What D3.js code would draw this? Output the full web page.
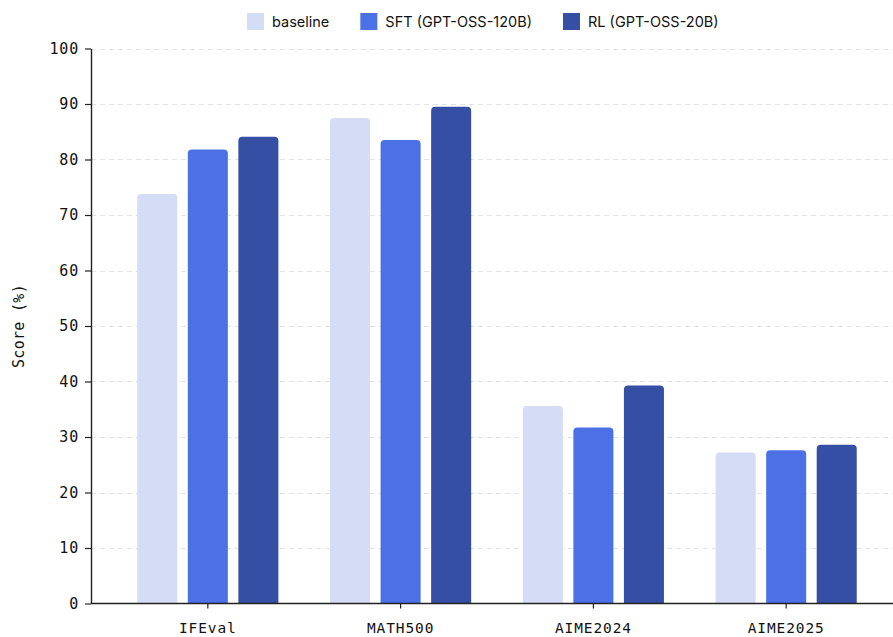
<!DOCTYPE html>
<html>
<head>
<meta charset="utf-8">
<script src="https://cdn.jsdelivr.net/npm/d3@7"></script>
<style>
  html, body { margin: 0; padding: 0; background: #fff; }
  svg { display: block; }
</style>
</head>
<body>
<svg id="chart" width="893" height="637"></svg>
<script>
// Benchmarks and scores (%) per training setup
const categories = ["IFEval", "MATH500", "AIME2024", "AIME2025"];
const seriesNames = ["baseline", "SFT (GPT-OSS-120B)", "RL (GPT-OSS-20B)"];
const baseline = [73.8, 87.5, 35.6, 27.2];
const sft = [81.8, 83.5, 31.7, 27.6];
const rl = [84.1, 89.5, 39.3, 28.6];
const yTicks = [0, 10, 20, 30, 40, 50, 60, 70, 80, 90, 100];
const colors = ["#d4dcf6", "#4c71e6", "#344fa3"];

const seriesValues = [baseline, sft, rl];
const rows = categories.map((c, i) => ({
  category: c,
  values: seriesNames.map((s, j) => ({ series: s, idx: j, value: seriesValues[j][i] }))
}));

const svg = d3.select("#chart");
const W = 893, H = 637;
const margin = { left: 91, top: 48.5, bottom: 33.5 };
const plotBottom = H - margin.bottom;

const x0 = d3.scaleBand()
  .domain(categories)
  .range([margin.left, 903])
  .paddingInner(0.268)
  .paddingOuter(0.24);

const x1 = d3.scaleBand()
  .domain(d3.range(seriesNames.length))
  .range([0, x0.bandwidth()])
  .paddingInner(0.208)
  .paddingOuter(0);

const y = d3.scaleLinear().domain([0, 100]).range([plotBottom, margin.top]);

const monoFont = "'DejaVu Sans Mono', 'Liberation Mono', monospace";

// dashed horizontal gridlines
svg.append("g")
  .selectAll("line")
  .data(yTicks.filter(t => t > 0))
  .join("line")
  .attr("x1", margin.left)
  .attr("x2", W)
  .attr("y1", d => Math.round(y(d)) + 0.5)
  .attr("y2", d => Math.round(y(d)) + 0.5)
  .attr("stroke", "#e3e3e3")
  .attr("stroke-width", 1)
  .attr("stroke-dasharray", "5,4");

// bars with rounded top corners
function topRounded(x, yTop, w, h, r) {
  r = Math.min(r, h, w / 2);
  return `M${x},${yTop + h}V${yTop + r}Q${x},${yTop} ${x + r},${yTop}` +
         `H${x + w - r}Q${x + w},${yTop} ${x + w},${yTop + r}V${yTop + h}Z`;
}

svg.append("g")
  .selectAll("g")
  .data(rows)
  .join("g")
  .attr("transform", d => `translate(${x0(d.category)},0)`)
  .selectAll("path")
  .data(d => d.values)
  .join("path")
  .attr("d", d => topRounded(x1(d.idx), y(d.value), x1.bandwidth(), y(0) - y(d.value), 4))
  .attr("fill", d => colors[d.idx]);

// y axis
const yAxis = svg.append("g")
  .attr("transform", `translate(${margin.left},0)`)
  .call(d3.axisLeft(y).tickValues(yTicks).tickSize(6).tickSizeOuter(0).tickPadding(6));
yAxis.select(".domain").attr("stroke", "#222").attr("stroke-width", 1.4);
yAxis.selectAll(".tick line").attr("stroke", "#222").attr("stroke-width", 1.2);
yAxis.selectAll(".tick text")
  .attr("font-family", monoFont)
  .attr("font-size", 15)
  .attr("letter-spacing", 0.8)
  .attr("fill", "#111");

// x axis
const xAxis = svg.append("g")
  .attr("transform", `translate(0,${plotBottom})`)
  .call(d3.axisBottom(x0).tickSize(5).tickSizeOuter(0).tickPadding(14));
xAxis.select(".domain").attr("stroke", "#222").attr("stroke-width", 1.6)
  .attr("d", `M${margin.left},0H${W}`);
xAxis.selectAll(".tick line").attr("stroke", "#222").attr("stroke-width", 1.2);
xAxis.selectAll(".tick text")
  .attr("font-family", monoFont)
  .attr("font-size", 14.5)
  .attr("letter-spacing", 0.9)
  .attr("fill", "#111");

// y axis title
svg.append("text")
  .attr("transform", `translate(23.5,${(margin.top + plotBottom) / 2}) rotate(-90)`)
  .attr("text-anchor", "middle")
  .attr("font-family", monoFont)
  .attr("font-size", 15)
  .attr("letter-spacing", 0.3)
  .attr("fill", "#111")
  .text("Score (%)");

// legend across the top
const legend = svg.append("g").attr("transform", "translate(247,13)");
let lx = 0;
seriesNames.forEach((name, i) => {
  const item = legend.append("g").attr("transform", `translate(${lx},0)`);
  item.append("rect")
    .attr("width", 17).attr("height", 17)
    .attr("fill", colors[i]);
  const t = item.append("text")
    .attr("x", 25).attr("y", 13.5)
    .attr("font-family", "Inter, 'Noto Sans', sans-serif")
    .attr("font-size", 14.5)
    .attr("fill", "#111")
    .text(name);
  lx += 25 + t.node().getComputedTextLength() + 31;
});
</script>
</body>
</html>
